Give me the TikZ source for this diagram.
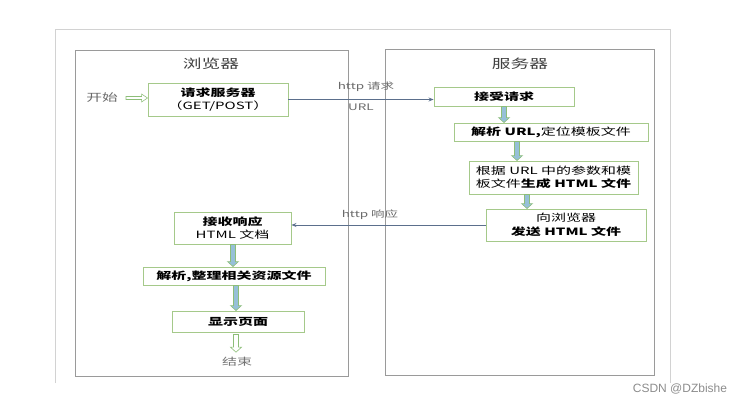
\documentclass[tikz,border=0pt]{standalone}
\usepackage{fontspec}
\setmainfont[FakeStretch=1.5]{Noto Sans CJK SC}
\newfontfamily\wmfont{Liberation Sans}
\usetikzlibrary{arrows.meta,calc}
\definecolor{boxgreen}{HTML}{A5C98A}
\definecolor{arrgreen}{HTML}{8DBE78}
\definecolor{arrfill}{HTML}{96C0D8}
\definecolor{conn}{HTML}{5B6F8C}
\definecolor{frame}{HTML}{9A9A9A}
\definecolor{outer}{HTML}{D2D2D2}
\definecolor{lblgray}{HTML}{6A6A6A}
\newcommand\vblk[3]{\filldraw[blk,#1] let \p1=(#2), \p2=(#3) in
  (\x1-2.5pt,\y1) -- (\x1-2.5pt,\y2+5pt) -- (\x1-5.5pt,\y2+5pt) -- (\x1,\y2)
  -- (\x1+5.5pt,\y2+5pt) -- (\x1+2.5pt,\y2+5pt) -- (\x1+2.5pt,\y1) -- cycle;}
\newcommand\hblk[3]{\filldraw[blk,#1] let \p1=(#2), \p2=(#3) in
  (\x1,\y1-1.5pt) -- (\x2-6pt,\y1-1.5pt) -- (\x2-6pt,\y1-4pt) -- (\x2,\y1)
  -- (\x2-6pt,\y1+4pt) -- (\x2-6pt,\y1+1.5pt) -- (\x1,\y1+1.5pt) -- cycle;}
\begin{document}
\begin{tikzpicture}[x=1pt,y=-1pt,
  box/.style={draw=boxgreen, line width=0.9pt, fill=white, inner sep=0pt, align=center,
    font=\fontsize{10}{13.5}\selectfont},
  blk/.style={draw=arrgreen, fill=arrfill, line width=0.6pt},
  conline/.style={draw=conn, line width=0.8pt, -{Stealth[length=5pt,width=4pt]}},
  lbl/.style={text=lblgray, inner sep=0pt, font=\fontsize{9}{11}\selectfont},
  title/.style={inner sep=0pt, text=black!75, font=\fontsize{12.5}{14}\selectfont},
  panel/.style={draw=frame, line width=0.8pt}]
\useasboundingbox (0,0) rectangle (742,404);
% outer frame
\draw[outer, line width=0.8pt] (55,383) -- (55,29) -- (670,29) -- (670,383);
% panels
\draw[panel] (75,50) rectangle (348,376);
\draw[panel] (385,49) rectangle (654,375);
\node[title] (tb) at (211,64) {浏览器};
\node[title] (ts) at (520,64) {服务器};
% boxes
\node[box, minimum width=140pt, minimum height=33pt] (n1) at (218,99.5)
  {\textbf{请求服务器}\\（GET/POST）};
\node[box, minimum width=140pt, minimum height=19pt] (n2) at (504,96.5) {\textbf{接受请求}};
\node[box, minimum width=194pt, minimum height=18pt] (n3) at (551,132) {\textbf{解析 URL,}定位模板文件};
\node[box, minimum width=169pt, minimum height=33pt] (n4) at (553.5,177.5)
  {根据 URL 中的参数和模\\板文件\textbf{生成 HTML 文件}};
\node[box, minimum width=160pt, minimum height=32pt] (n5) at (566,225)
  {向浏览器\\\textbf{发送 HTML 文件}};
\node[box, minimum width=117pt, minimum height=32pt] (n6) at (232.5,228)
  {\textbf{接收响应}\\HTML 文档};
\node[box, minimum width=182pt, minimum height=18pt] (n7) at (234,276) {\textbf{解析,整理相关资源文件}};
\node[box, minimum width=132pt, minimum height=21pt] (n8) at (238,321.5) {\textbf{显示页面}};
\node[inner sep=0pt, text=lblgray, font=\fontsize{10.5}{12}\selectfont] (st) at (102,98) {开始};
\node[inner sep=0pt, text=black!55, font=\fontsize{10}{12}\selectfont] (fin) at (237,362) {结束};
% coordinates for vertical block arrows
\coordinate (c1) at (504,0);
\coordinate (c2) at (517,0);
\coordinate (c3) at (527,0);
\coordinate (c4) at (233,0);
\coordinate (c5) at (236,0);
\coordinate (c6) at (236,0);
\vblk{}{n2.south -| c1}{n3.north -| c1}
\vblk{}{n3.south -| c2}{n4.north -| c2}
\vblk{}{n4.south -| c3}{n5.north -| c3}
\vblk{}{n6.south -| c4}{n7.north -| c4}
\vblk{}{n7.south -| c5}{n8.north -| c5}
\vblk{fill=white}{$(n8.south -| c6)+(0,2)$}{$(fin.north -| c6)+(0,-5)$}
\hblk{fill=white}{$(st.east)+(8,0)$}{n1.west}
% request / response connectors
\draw[conline] (n1.east) -- (n1.east -| n2.west);
\draw[conline] (n5.west) -- (n5.west -| n6.east);
\node[lbl] (l1) at (366,87) {http 请求};
\node[lbl] (l2) at (361,107) {URL};
\node[lbl] (l3) at (370,215) {http 响应};
% watermark
\node[inner sep=0pt, text=black!45, font=\wmfont\fontsize{12}{14}\selectfont] (wm) at (680,389) {CSDN @DZbishe};
\end{tikzpicture}
\end{document}
